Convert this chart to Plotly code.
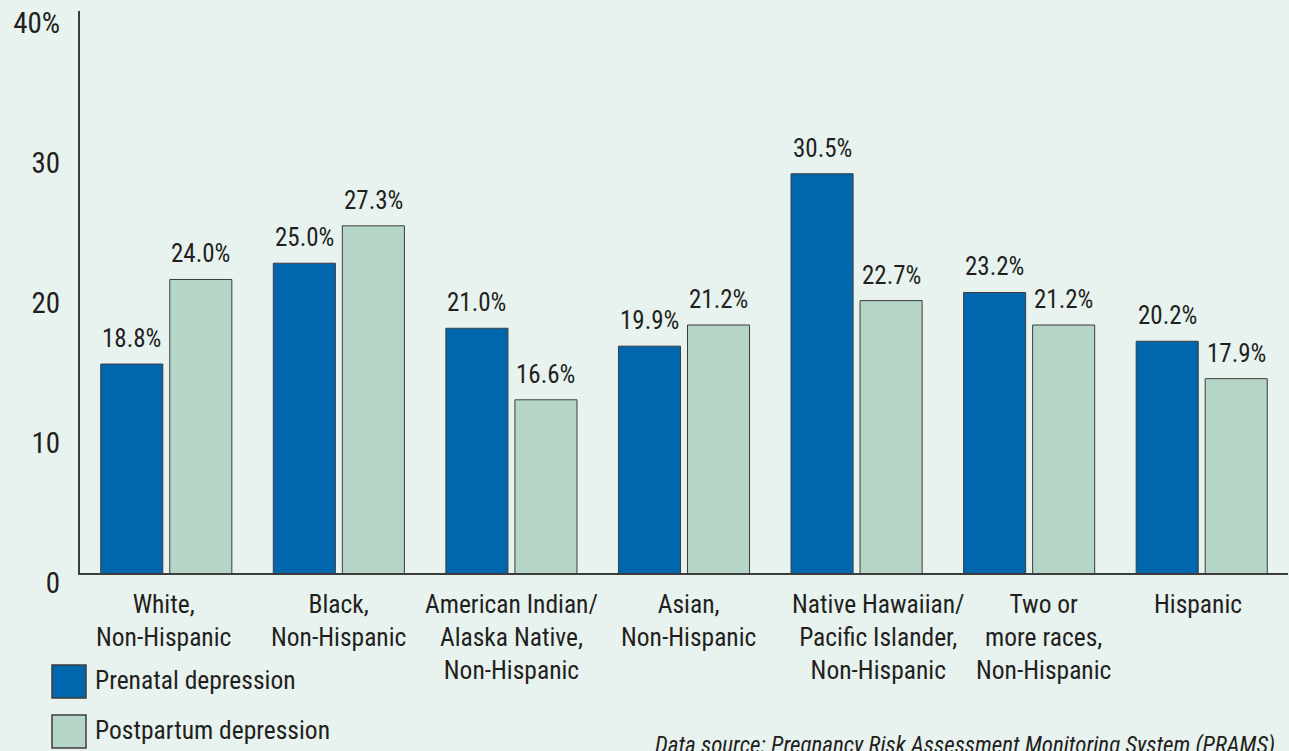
import plotly.graph_objects as go

# ---------------- data ----------------
category_ids = ["White", "Black", "AIAN", "Asian", "NHPI", "Multi", "Hispanic"]
category_labels = [
    "White,<br>Non-Hispanic",
    "Black,<br>Non-Hispanic",
    "American Indian/<br>Alaska Native,<br>Non-Hispanic",
    "Asian,<br>Non-Hispanic",
    "Native Hawaiian/<br>Pacific Islander,<br>Non-Hispanic",
    "Two or<br>more races,<br>Non-Hispanic",
    "Hispanic",
]
prenatal = [18.8, 25.0, 21.0, 19.9, 30.5, 23.2, 20.2]
postpartum = [24.0, 27.3, 16.6, 21.2, 22.7, 21.2, 17.9]
series_names = ["Prenatal depression", "Postpartum depression"]
tick_values = [0, 10, 20, 30, 40]
tick_labels = ["0", "10", "20", "30", "40%"]
source_text = "Data source: Pregnancy Risk Assessment Monitoring System (PRAMS)"

# ---------------- style ----------------
W, H = 1289, 751
M_L, M_R, M_T, M_B = 80, 1, 11, 178
PLOT_W = W - M_L - M_R
PLOT_H = H - M_T - M_B

BLUE = "#0066AE"
GREEN = "#B5D6C7"
BG = "#E8F3EF"
EDGE = "#3C3C3C"
TEXT = "#231F20"
FONT = "Liberation Sans Narrow, Arial Narrow, Roboto Condensed, sans-serif"
label_nudge = [-3, 0, 0, 4, 22, 14, -4]
bar_offset = 34.5


def px_x(px):
    return (px - M_L) / PLOT_W


def px_y(py):
    return (H - M_B - py) / PLOT_H


fig = go.Figure()
# invisible anchor trace so the visible percentage axis is drawn
fig.add_trace(go.Scatter(
    x=[category_ids[0]], y=[0], mode="markers", marker=dict(opacity=0),
    showlegend=False, hoverinfo="skip",
))
for name, vals, col in [(series_names[0], prenatal, BLUE), (series_names[1], postpartum, GREEN)]:
    fig.add_trace(go.Bar(
        x=category_ids, y=vals, name=name, yaxis="y2",
        marker=dict(color=col, line=dict(color=EDGE, width=1)),
        showlegend=False, hovertemplate="%{y:.1f}%<extra>" + name + "</extra>",
    ))

annotations = []
# value labels
for vals, sh in [(prenatal, -bar_offset), (postpartum, bar_offset)]:
    for cid, v in zip(category_ids, vals):
        annotations.append(dict(
            x=cid, y=v, xref="x", yref="y2", xshift=sh, yshift=9,
            yanchor="bottom", xanchor="center", showarrow=False,
            text=f"{v:.1f}%", font=dict(family=FONT, size=25, color=TEXT),
        ))
# category labels
for cid, lab, nd in zip(category_ids, category_labels, label_nudge):
    annotations.append(dict(
        x=cid, y=px_y(587), xref="x", yref="paper", xshift=nd,
        yanchor="top", xanchor="center", showarrow=False, align="center",
        text=lab, font=dict(family=FONT, size=25.5, color=TEXT),
    ))
# legend
shapes = []
for i, (name, col) in enumerate(zip(series_names, [BLUE, GREEN])):
    top = 665 + i * 50
    shapes.append(dict(
        type="rect", xref="paper", yref="paper",
        x0=px_x(52), x1=px_x(86), y0=px_y(top), y1=px_y(top + 33),
        fillcolor=col, line=dict(color=EDGE, width=1.5),
    ))
    annotations.append(dict(
        x=px_x(93), y=px_y(top + 15), xref="paper", yref="paper",
        xanchor="left", yanchor="middle", showarrow=False,
        text=name, font=dict(family=FONT, size=25.5, color=TEXT),
    ))
# source
annotations.append(dict(
    x=px_x(1277), y=px_y(730), xref="paper", yref="paper",
    xanchor="right", yanchor="top", showarrow=False,
    text="<i>" + source_text + "</i>",
    font=dict(family=FONT, size=23, color=TEXT),
))

fig.update_layout(
    width=W, height=H,
    margin=dict(l=M_L, r=M_R, t=M_T, b=M_B),
    paper_bgcolor=BG, plot_bgcolor=BG,
    barmode="group", bargap=0.2, bargroupgap=0.101,
    font=dict(family=FONT, color=TEXT),
    xaxis=dict(
        type="category", range=[-0.5, 6.5], showline=True, linecolor=EDGE,
        linewidth=2, showticklabels=False, ticks="", showgrid=False, zeroline=False,
    ),
    yaxis=dict(
        range=[0, PLOT_H / 14.0], tickvals=tick_values, ticktext=tick_labels,
        showline=True, linecolor=EDGE, linewidth=2, showgrid=False, zeroline=False,
        ticks="", tickfont=dict(family=FONT, size=29, color=TEXT),
        ticklabelshift=10, ticklabelstandoff=12,
    ),
    yaxis2=dict(
        overlaying="y", range=[5.95, 40.51], showticklabels=False, showgrid=False,
        showline=False, zeroline=False, ticks="",
    ),
    annotations=annotations, shapes=shapes,
)

fig.write_html(
    "out.html",
    config={"displayModeBar": False},
    post_script="document.body.style.margin='0';document.body.style.background='" + BG + "';",
)
